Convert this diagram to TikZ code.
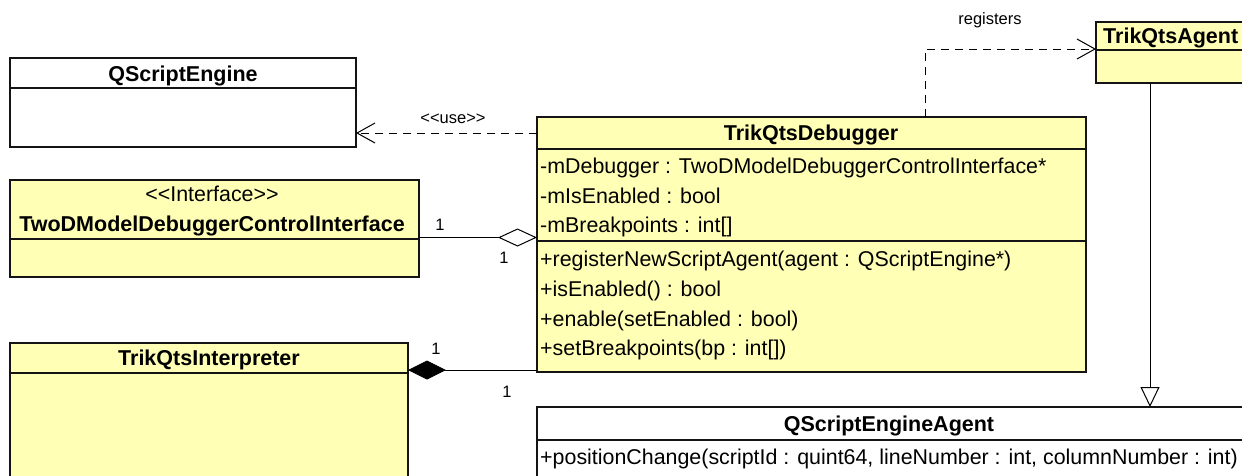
\documentclass[tikz,border=0pt]{standalone}
\usepackage{fontspec}
\setmainfont{Liberation Sans}
\usetikzlibrary{arrows.meta}
\definecolor{umlyellow}{RGB}{255,255,181}
\definecolor{umlline}{RGB}{20,20,20}
\begin{document}
\begin{tikzpicture}[x=1pt,y=-1pt,
  cls/.style={draw=umlline, line width=1.2pt, fill=umlyellow, anchor=north west,
    inner sep=0pt, outer sep=0pt},
  plain/.style={cls, fill=white},
  divider/.style={draw=umlline, line width=1.2pt},
  title/.style={font=\bfseries\fontsize{21.5}{24}\selectfont, inner sep=0pt, anchor=base},
  stereo/.style={font=\fontsize{21.4}{24}\selectfont, inner sep=0pt, anchor=base},
  member/.style={font=\fontsize{21.4}{24}\selectfont, anchor=base west, inner sep=0pt},
  lbl/.style={font=\fontsize{16.5}{18}\selectfont, inner sep=0pt},
  dep/.style={line width=1pt, dash pattern=on 8pt off 6pt,
    -{Straight Barb[length=18pt,width=20pt,line width=1pt]}},
  assoc/.style={line width=1pt},
  gen/.style={line width=1pt, -{Triangle[open,length=20pt,width=19pt,fill=white,line width=1pt]}}
]
\useasboundingbox (0,0) rectangle (1242,475);
\clip (0,0) rectangle (1242,475);

% ---- class boxes ----
\node[plain, minimum width=346pt, minimum height=89pt] (qse) at (10,58) {};
\node[cls, minimum width=409pt, minimum height=97pt] (iface) at (10,180) {};
\node[cls, minimum width=398pt, minimum height=200pt] (interp) at (10,343) {};
\node[cls, minimum width=549pt, minimum height=255pt] (dbg) at (537,117) {};
\node[cls, minimum width=220pt, minimum height=61pt] (agent) at (1096,22) {};
\node[plain, minimum width=800pt, minimum height=120pt] (qsea) at (537,407) {};

% ---- compartment dividers ----
\draw[divider] ([yshift=-30pt]qse.north west) -- ([yshift=-30pt]qse.north east);
\draw[divider] ([yshift=-59pt]iface.north west) -- ([yshift=-59pt]iface.north east);
\draw[divider] ([yshift=-30pt]interp.north west) -- ([yshift=-30pt]interp.north east);
\draw[divider] ([yshift=-32pt]dbg.north west) -- ([yshift=-32pt]dbg.north east);
\draw[divider] ([yshift=-124pt]dbg.north west) -- ([yshift=-124pt]dbg.north east);
\draw[divider] ([yshift=-28pt]agent.north west) -- ([yshift=-28pt]agent.north east);
\draw[divider] ([yshift=-33pt]qsea.north west) -- ([yshift=-33pt]qsea.north east);

% ---- class names ----
\node[title] (qseName) at (183,81.5) {QScriptEngine};
\node[stereo] (ifaceSt) at (212,201.7) {<\kern0pt<Interface>\kern0pt>};
\node[title] (ifaceName) at (212,231.7) {TwoDModelDebuggerControlInterface};
\node[title] (interpName) at (209,365.5) {TrikQtsInterpreter};
\node[title] (dbgName) at (811,140) {TrikQtsDebugger};
\node[title, anchor=base west] (agentName) at (1103,43.5) {TrikQtsAgent};
\node[title] (qseaName) at (889,431.5) {QScriptEngineAgent};

% ---- members ----
\node[member] (a1) at (540,173.5) {-mDebugger : TwoDModelDebuggerControlInterface*};
\node[member] (a2) at (540,203) {-mIsEnabled : bool};
\node[member] (a3) at (540,232) {-mBreakpoints : int[]};
\node[member] (m1) at (540,266.5) {+registerNewScriptAgent(agent : QScriptEngine*)};
\node[member] (m2) at (540,296.5) {+isEnabled() : bool};
\node[member] (m3) at (540,326) {+enable(setEnabled : bool)};
\node[member] (m4) at (540,355) {+setBreakpoints(bp : int[])};
\node[member] (q1) at (540,464.5) {+positionChange(scriptId : quint64, lineNumber : int, columnNumber : int)};

% ---- relations ----
\draw[dep] ([yshift=-16pt]dbg.north west) -- ([yshift=-16pt]dbg.north west -| qse.east);
\node[lbl] (useLbl) at (453,119) {<\kern0pt<use>\kern0pt>};

\coordinate (regFoot) at (925,117);
\draw[dep] (regFoot) |- ([yshift=-27pt]agent.north west);
\node[lbl] (regLbl) at (990,20) {registers};

\draw[assoc, {Diamond[open,length=39pt,width=18pt,fill=white,line width=1pt]}-]
  ([yshift=-120.5pt]dbg.north west) -- ([yshift=-120.5pt]dbg.north west -| iface.east);
\node[lbl] (agg1) at (440,225) {1};
\node[lbl] (agg2) at (504,258) {1};

\draw[assoc, {Diamond[length=38pt,width=19pt,fill=black,line width=1pt]}-]
  ([yshift=-27pt]interp.north east) -- ([yshift=-27pt]interp.north east -| dbg.west);
\node[lbl] (cmp1) at (436,349) {1};
\node[lbl] (cmp2) at (507,392) {1};

\coordinate (genTop) at (1150,83);
\draw[gen] (genTop) -- (genTop |- qsea.north);
\end{tikzpicture}
\end{document}
